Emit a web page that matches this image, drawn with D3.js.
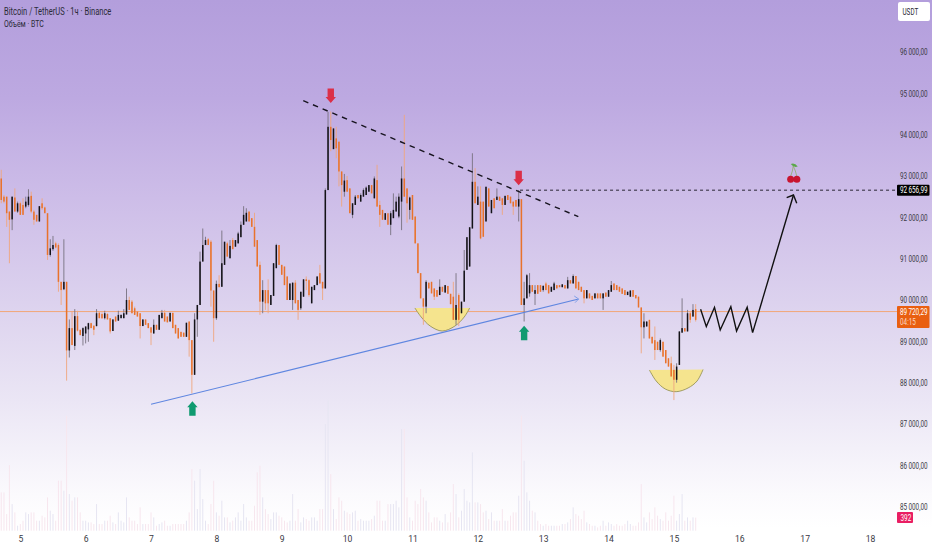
<!DOCTYPE html>
<html>
<head>
<meta charset="utf-8">
<script src="https://cdn.jsdelivr.net/npm/d3@7"></script>
<style>
  html, body { margin: 0; padding: 0; background: #fff; }
  svg { display: block; font-family: Roboto, sans-serif; }
</style>
</head>
<body>
<div id="chart"></div>
<script>
// hourly candles, first candle is index 0
const opens = [
  92940,92500,92500,92140,91950,92480,92140,92340,92300,92260,
  92300,92520,92140,92060,91900,92340,92240,92100,91090,91230,
  91370,91330,90440,90260,90440,88780,89320,88890,89610,89280,
  89130,89190,89290,89440,89380,89370,89690,89660,89560,89660,
  89560,89250,89600,89500,89560,89560,89650,90000,89960,89800,
  89720,89680,89370,89530,89440,89340,89190,89400,89280,89560,
  89690,89600,89480,89690,89400,89320,89230,89210,89110,89480,
  89030,88190,89530,89880,90930,91330,91470,91410,90230,89560,
  90390,90320,90850,91370,91010,91450,91290,91370,91520,91820,
  91900,92140,91980,91770,91450,90850,89960,90240,90240,89880,
  90100,90770,91330,90850,90810,90570,90000,90000,90420,90000,
  89800,90080,90500,90480,89920,90240,90360,90650,90440,90280,
  92660,94190,93650,93910,93830,93110,92620,92900,92700,92060,
  92300,92540,92380,92500,92540,92620,92780,92460,92900,92300,
  92180,91940,92100,91820,91980,92140,92020,92380,92940,92700,
  92180,92540,92020,91370,90650,90040,89840,90420,90440,90280,
  90240,90120,90320,90180,90340,90150,90080,89520,90120,89680,
  89960,90730,90810,91730,92860,92300,92380,92380,91900,92700,
  92100,92460,92420,92500,92460,92300,92540,92500,92380,92420,
  92260,92440,89880,90040,90160,90360,90150,90360,90360,90240,
  90400,90360,90200,90240,90360,90360,90310,90360,90280,90480,
  90400,90580,90440,90320,90240,90040,90160,90100,90040,90160,
  90160,90040,90180,90080,90200,90400,90360,90320,90280,90240,
  90120,90080,90240,90120,90080,89820,89340,89360,89520,89110,
  89030,88990,88790,88990,88790,88590,88470,88310,88070,88430,
  89210,89320,89240,89680,89600,89780
];
const closes = [
  92420,92380,92100,91940,92500,92140,92340,92060,92060,92380,
  92500,92140,91940,91900,92270,92220,92100,91090,91250,91330,
  91270,90440,90240,90440,88780,89320,88910,89610,89260,89150,
  89320,89360,89440,89320,89280,89680,89560,89560,89680,89530,
  89240,89530,89480,89640,89640,89680,90000,89760,89680,89640,
  89600,89370,89530,89400,89320,89210,89400,89280,89640,89690,
  89480,89460,89690,89320,89190,89070,89110,89110,89450,89030,
  88190,89530,89880,90930,91330,91450,91330,90230,89560,90390,
  90310,90890,91410,91050,91310,91230,91450,91610,91820,92060,
  92110,91900,91770,91290,90810,89960,90240,89920,89920,90120,
  90890,91330,90850,90610,90360,90000,90400,90420,89920,89760,
  90200,90500,90460,90120,90320,90360,90570,90400,90280,92660,
  94190,93870,94150,93670,93110,92780,92890,92620,92100,92340,
  92500,92460,92540,92660,92720,92780,92580,92940,92260,92060,
  91940,92100,91820,92100,92180,92380,92500,92940,92500,92340,
  92480,91940,91370,90650,90040,89840,90440,90280,90160,90080,
  90080,90320,90200,90360,90150,89900,89520,89880,89520,89960,
  90710,91520,91760,92860,92340,92500,91490,91530,92740,92260,
  92420,92220,92500,92400,92300,92520,92420,92340,92260,92260,
  92440,89880,90040,90600,90360,90200,90240,90150,90200,90340,
  90240,90160,90320,90400,90280,90310,90380,90280,90480,90400,
  90580,90280,90240,90200,90040,90240,90040,90000,90160,90040,
  90040,90160,90080,90240,90360,90240,90240,90200,90150,90120,
  90200,90230,90080,90040,89820,89340,89480,89480,89070,88950,
  88790,88790,89030,88630,88470,88390,88150,88070,88390,89240,
  89320,89240,89680,89520,89760,89520
];
const highs = [
  93150,92540,92500,92140,92500,92700,92380,92380,92460,92500,
  92680,92620,92180,92060,92270,92460,92260,92100,91470,91550,
  91410,91370,90440,91470,90440,89530,89720,89780,89740,89280,
  89340,89360,89450,89450,89380,89780,89710,89700,89740,89680,
  89560,89530,89600,89740,89650,89780,90280,90080,90000,89840,
  89720,89680,89530,89530,89440,89340,89530,89400,89640,89760,
  89760,89600,89690,89690,89400,89320,89230,89210,89450,89480,
  89030,89680,89880,91170,91730,91530,91500,91450,90230,90470,
  90600,91680,91410,91410,91450,91500,91450,91650,91900,92270,
  92220,92140,91980,92110,91450,90930,90480,90240,90500,90120,
  90890,91360,91330,90850,90810,90570,90400,90420,90480,90000,
  90200,90500,90570,90500,90320,90360,90570,90850,90440,92700,
  94550,94560,94150,94190,93830,93110,93050,93000,92700,92340,
  92540,92540,92580,92700,92750,92780,92780,92990,93270,92400,
  92180,92100,91820,92150,92580,92500,92580,93230,94480,92700,
  92500,92540,92020,91370,90650,90040,90480,90420,90440,90280,
  90240,90500,90320,90360,90340,90150,90440,90650,90160,89960,
  91210,91520,91760,93550,93190,92750,92750,92380,92740,92700,
  92420,92460,92700,92500,92460,92520,92540,92500,92380,92420,
  92660,92440,90440,90630,90650,90360,90360,90360,90360,90360,
  90440,90360,90320,90440,90360,90360,90380,90360,90560,90480,
  90620,90580,90440,90320,90240,90240,90160,90100,90160,90160,
  90160,90160,90180,90240,90460,90400,90360,90320,90280,90240,
  90200,90230,90240,90120,90080,89820,89680,89480,89520,89110,
  89360,88990,89070,88990,88790,88590,88630,88430,88470,89240,
  90040,89320,89760,89720,89900,89900
];
const lows = [
  92340,92340,91770,90890,91690,92140,92110,92060,92060,92220,
  92260,92100,91820,91900,91900,92180,92100,90970,91050,91190,
  91250,90200,89880,90240,88050,88610,88910,88790,89240,89150,
  88900,88950,88990,89320,89150,89360,89560,89540,89530,89530,
  89190,89250,89480,89500,89560,89560,89650,89760,89680,89640,
  89600,89070,89370,89400,89320,88910,89190,89280,89280,89560,
  89480,89460,89480,89320,89190,89070,89110,89110,89110,88630,
  87740,88190,89110,89880,90930,91330,91330,89840,88990,89520,
  90310,90320,90850,91050,91010,91230,91290,91370,91520,91820,
  91900,91900,91770,91290,90810,89640,89680,89760,89680,89880,
  90100,90770,90850,90610,90360,90000,90000,89760,89920,89520,
  89760,90080,90240,90080,89920,90240,90360,90400,90000,90280,
  92660,93600,93650,93430,92750,92260,92500,92620,92100,91980,
  92300,92460,92380,92500,92540,92620,92580,92460,92260,91770,
  91940,91940,91820,91570,91980,92140,91980,91690,92500,91870,
  91950,91940,91370,90650,90040,89400,89680,90280,90160,90000,
  90080,90120,90200,90180,90150,89900,89520,89400,89370,89680,
  89960,90730,90810,91730,92340,92300,91470,91530,91900,92260,
  92100,92220,92420,92400,92060,92300,92420,92340,92060,92260,
  91900,89880,89480,90040,90080,90200,89880,90150,90200,90200,
  90240,90160,90200,90240,90280,90310,90310,90280,90280,90400,
  90400,90280,90240,90200,89920,90040,90040,90000,90040,90040,
  90040,89760,90080,90080,90200,90240,90240,90200,90150,90120,
  90120,90080,90080,90040,89820,88710,89070,89360,89070,88950,
  88550,88790,88750,88630,88470,88390,88150,87580,88000,88430,
  89210,89240,89240,89450,89600,89480
];
const volumes = [
  1150,1150,500,1970,800,550,150,200,300,550,
  500,550,550,300,300,450,400,1000,600,500,
  300,1500,1500,1200,3450,1100,900,1000,1000,550,
  300,300,250,250,200,800,200,200,300,300,
  450,250,200,550,300,250,1000,400,300,300,
  200,700,200,200,200,550,400,150,200,250,
  300,150,150,200,200,200,200,200,300,550,
  1850,1500,650,1850,950,300,200,800,1500,550,
  450,900,400,400,250,300,400,550,300,800,
  400,300,300,750,1750,1950,1000,650,500,350,
  550,550,450,400,300,250,300,1100,300,650,
  250,400,350,300,400,400,300,650,650,3200,
  3900,1700,650,350,1000,900,600,550,500,550,
  600,300,350,300,300,300,350,450,900,900,
  300,300,800,800,800,900,700,3050,3050,1000,
  400,300,900,800,1250,1000,900,550,250,400,
  400,300,250,500,250,550,1400,1100,400,600,
  1250,900,850,2350,850,850,800,550,600,350,
  550,300,300,300,650,300,300,450,550,550,
  1050,3450,2100,1150,900,600,550,300,200,150,
  200,150,150,150,150,150,200,200,250,350,
  700,500,450,350,600,250,200,150,150,100,
  150,300,150,250,200,150,200,150,150,200,
  300,200,150,150,250,1400,400,250,550,350,
  700,450,350,300,550,300,450,1050,300,500,
  1100,300,400,300,400,392
];

const dayLabels = [5, 6, 7, 8, 9, 10, 11, 12, 13, 14, 15, 16, 17, 18];
const priceLabels = [85000, 86000, 87000, 88000, 89000, 90000, 91000, 92000, 93000, 94000, 95000, 96000];

const lastPrice = 89720.29;
const targetPrice = 92656.99;
const lastVolume = 392;

// drawings, all in [candle index, price]
const resistanceLine = [[110.9, 94822], [211.9, 92015]];
const targetLine = [[190.5, targetPrice], [329, targetPrice]];
const supportLine = [[55, 87477], [212, 90025]];
const supportHead = [[210.4, 90097], [212, 90025], [210.7, 89936]];
const zigzagLine = [[256.8, 89775], [258.9, 89356], [261.9, 89823], [264, 89275], [267.9, 89839], [270, 89251], [273.9, 89823], [275.9, 89211], [290.9, 92540]];
const zigzagHead = [[288.4, 92476], [290.9, 92540], [292.1, 92339]];
const cupLeft = [[151.9, 89807], [154.2, 89589], [157.5, 89371], [161.9, 89250], [166.6, 89371], [170, 89589], [172, 89807]];
const cupRight = [[238, 88307], [240.5, 88041], [243.8, 87848], [247.8, 87782], [252.2, 87872], [255.5, 88041], [257.7, 88319]];
const downMarks = [[121, 94947], [190, 92960]];
const upMarks = [[70.2, 87369], [192, 89195]];
const cherryMark = [291, 93000];

const width = 932, height = 550;
const axisLeft = 897;
const upColor = '#131217', downColor = '#e8722c';
const upWick = '#77727f', downWick = '#efa67e';

const candles = opens.map((o, i) => ({ i, o, c: closes[i], h: highs[i], l: lows[i], v: volumes[i] }));

const xScale = d3.scaleLinear().domain([7, 319]).range([20.3, 870]);
const yScale = d3.scaleLinear().domain([85000, 93000]).range([506.7, 176]);
const volScale = d3.scaleLinear().domain([0, 3900]).range([530.7, 400.7]);

const priceFormat = d3.formatLocale({ decimal: ',', thousands: '\u2009', grouping: [3], currency: ['', ''] }).format(',.2f');

const svg = d3.select('#chart')
  .append('svg')
  .attr('width', width)
  .attr('height', height);

// background
const defs = svg.append('defs');
const grad = defs.append('linearGradient')
  .attr('id', 'bg')
  .attr('x1', 0).attr('x2', 0).attr('y1', 0).attr('y2', 1);
[[0, '#b39edc'], [0.18, '#bda9e1'], [0.36, '#cdbde8'], [0.55, '#dcd2ee'], [0.73, '#ebe6f5'], [0.9, '#fbfafd'], [0.96, '#ffffff']]
  .forEach(s => grad.append('stop').attr('offset', s[0]).attr('stop-color', s[1]));

svg.append('rect')
  .attr('width', width)
  .attr('height', height)
  .attr('fill', 'url(#bg)');

const gViz = svg.append('g').style('filter', 'blur(0.3px)');

// volume
gViz.append('g').selectAll('rect')
  .data(candles)
  .enter()
  .append('rect')
  .attr('x', d => xScale(d.i) - 0.5)
  .attr('y', d => volScale(d.v))
  .attr('width', 1)
  .attr('height', d => volScale(0) - volScale(d.v))
  .attr('fill', d => d.c >= d.o ? '#e6e5f2' : '#f7e6ee');

// current price line
gViz.append('line')
  .attr('x1', 0)
  .attr('x2', axisLeft)
  .attr('y1', yScale(lastPrice))
  .attr('y2', yScale(lastPrice))
  .attr('stroke', '#f2a678')
  .attr('stroke-width', 1);

const lineMaker = d3.line()
  .x(d => xScale(d[0]))
  .y(d => yScale(d[1]));

const cupMaker = d3.line()
  .x(d => xScale(d[0]))
  .y(d => yScale(d[1]))
  .curve(d3.curveCatmullRom);

// yellow cups
gViz.selectAll('.cup')
  .data([cupLeft, cupRight])
  .enter()
  .append('path')
  .classed('cup', true)
  .attr('d', d => cupMaker(d))
  .attr('fill', '#f5e48e')
  .attr('stroke', '#8d8a4a')
  .attr('stroke-width', 0.8);

// candles
const gCandles = gViz.append('g');

gCandles.selectAll('line')
  .data(candles)
  .enter()
  .append('line')
  .attr('x1', d => xScale(d.i))
  .attr('x2', d => xScale(d.i))
  .attr('y1', d => yScale(d.h))
  .attr('y2', d => yScale(d.l))
  .attr('stroke', d => d.c >= d.o ? upWick : downWick)
  .attr('stroke-width', 0.9);

gCandles.selectAll('rect')
  .data(candles)
  .enter()
  .append('rect')
  .attr('x', d => xScale(d.i) - 0.75)
  .attr('y', d => yScale(Math.max(d.o, d.c)))
  .attr('width', 1.5)
  .attr('height', d => Math.max(1, Math.abs(yScale(d.o) - yScale(d.c))))
  .attr('fill', d => d.c >= d.o ? upColor : downColor);

// drawings
gViz.append('path')
  .attr('d', lineMaker(supportLine))
  .attr('fill', 'none')
  .attr('stroke', '#5f86e0')
  .attr('stroke-width', 1.1);

gViz.append('path')
  .attr('d', lineMaker(supportHead))
  .attr('fill', 'none')
  .attr('stroke', '#7f9ee8')
  .attr('stroke-width', 1);

gViz.append('path')
  .attr('d', lineMaker(resistanceLine))
  .attr('fill', 'none')
  .attr('stroke', '#17141f')
  .attr('stroke-width', 1.4)
  .attr('stroke-dasharray', '5.5 5');

gViz.append('path')
  .attr('d', lineMaker(targetLine))
  .attr('fill', 'none')
  .attr('stroke', '#17141f')
  .attr('stroke-width', 0.9)
  .attr('stroke-dasharray', '3 3');

gViz.append('path')
  .attr('d', lineMaker(zigzagLine))
  .attr('fill', 'none')
  .attr('stroke', '#111')
  .attr('stroke-width', 1.4)
  .attr('stroke-linejoin', 'miter');

gViz.append('path')
  .attr('d', lineMaker(zigzagHead))
  .attr('fill', 'none')
  .attr('stroke', '#111')
  .attr('stroke-width', 1.4);

// block arrows, icon size is fixed in pixels
const arrowUp = 'M0 -7.5 L5.2 -1.5 L3.2 -1.5 L3.2 7 L-3.2 7 L-3.2 -1.5 L-5.2 -1.5 Z';
const arrowDown = 'M0 7.5 L5.2 1.5 L3.2 1.5 L3.2 -7 L-3.2 -7 L-3.2 1.5 L-5.2 1.5 Z';

gViz.selectAll('.mark-down')
  .data(downMarks)
  .enter()
  .append('path')
  .classed('mark-down', true)
  .attr('d', arrowDown)
  .attr('transform', d => `translate(${xScale(d[0])}, ${yScale(d[1])})`)
  .attr('fill', '#db2f48');

gViz.selectAll('.mark-up')
  .data(upMarks)
  .enter()
  .append('path')
  .classed('mark-up', true)
  .attr('d', arrowUp)
  .attr('transform', d => `translate(${xScale(d[0])}, ${yScale(d[1])})`)
  .attr('fill', '#0f9a70');

// cherry icon
const gCherry = gViz.append('g')
  .attr('transform', `translate(${xScale(cherryMark[0])}, ${yScale(cherryMark[1])})`);

gCherry.append('path')
  .attr('d', 'M-0.5 -10 Q-1 -5 -3 0 M-0.5 -10 Q2 -5 3 0')
  .attr('fill', 'none')
  .attr('stroke', '#8fae6a')
  .attr('stroke-width', 0.8);
gCherry.append('path')
  .attr('d', 'M-3 -12 Q1 -13.5 4 -9.5 Q0 -8 -3 -12 Z')
  .attr('fill', '#5ba84b');
gCherry.selectAll('circle')
  .data([-3.1, 3.1])
  .enter()
  .append('circle')
  .attr('cx', d => d)
  .attr('cy', 3.2)
  .attr('r', 3.5)
  .attr('fill', '#c8142f');

// the small labels are squeezed sideways, scale keeps them inside the page
const squeeze = 0.74;

const yAxis = svg.append('g')
  .attr('transform', 'translate(900, 0)')
  .call(d3.axisRight(yScale).tickValues(priceLabels).tickFormat(priceFormat).tickSize(0).tickPadding(0));
yAxis.select('.domain').remove();
yAxis.selectAll('text')
  .attr('x', 0)
  .attr('transform', `scale(${squeeze}, 1)`)
  .attr('font-size', 8.6)
  .attr('font-family', 'Roboto, sans-serif')
  .attr('fill', '#3a3a44');

const xAxis = svg.append('g')
  .attr('transform', 'translate(0, 535)')
  .call(d3.axisBottom(xScale)
    .tickValues(dayLabels.map(d => 7 + 24 * (d - 5)))
    .tickFormat((d, i) => dayLabels[i])
    .tickSize(0)
    .tickPadding(1));
xAxis.select('.domain').remove();
xAxis.selectAll('text')
  .attr('font-size', 8.6)
  .attr('font-family', 'Roboto, sans-serif')
  .attr('fill', '#3a3a44');

function addLabel(x, y, content, size, color) {
  return svg.append('text')
    .attr('transform', `translate(${x}, ${y}) scale(${squeeze}, 1)`)
    .attr('font-size', size)
    .attr('fill', color)
    .text(content);
}

// header
addLabel(4, 14.8, 'Bitcoin / TetherUS · 1ч · Binance', 10.2, '#2b2b38');
addLabel(4, 26.5, 'Объём · BTC', 9.4, '#2b2b38');

// currency button
svg.append('rect')
  .attr('x', 898)
  .attr('y', 2)
  .attr('width', 32)
  .attr('height', 19)
  .attr('rx', 2)
  .attr('fill', '#fff');
addLabel(902.5, 15, 'USDT', 8.6, '#2b2b38');

// price tags
svg.append('rect')
  .attr('x', axisLeft)
  .attr('y', yScale(targetPrice) - 5.5)
  .attr('width', 32.5)
  .attr('height', 11)
  .attr('rx', 1)
  .attr('fill', '#000');
addLabel(900, yScale(targetPrice) + 3, priceFormat(targetPrice), 8.6, '#fff');

svg.append('rect')
  .attr('x', axisLeft)
  .attr('y', 306)
  .attr('width', 32.5)
  .attr('height', 22)
  .attr('rx', 1)
  .attr('fill', '#e95f10');
addLabel(900, 315, priceFormat(lastPrice), 8.6, '#fff');
addLabel(900, 325, '04:15', 8.6, '#fbd9c2');

svg.append('rect')
  .attr('x', axisLeft)
  .attr('y', 512)
  .attr('width', 16)
  .attr('height', 11)
  .attr('rx', 1)
  .attr('fill', '#e91e63');
addLabel(900.5, 520.5, lastVolume, 8.6, '#fff');
</script>
</body>
</html>
